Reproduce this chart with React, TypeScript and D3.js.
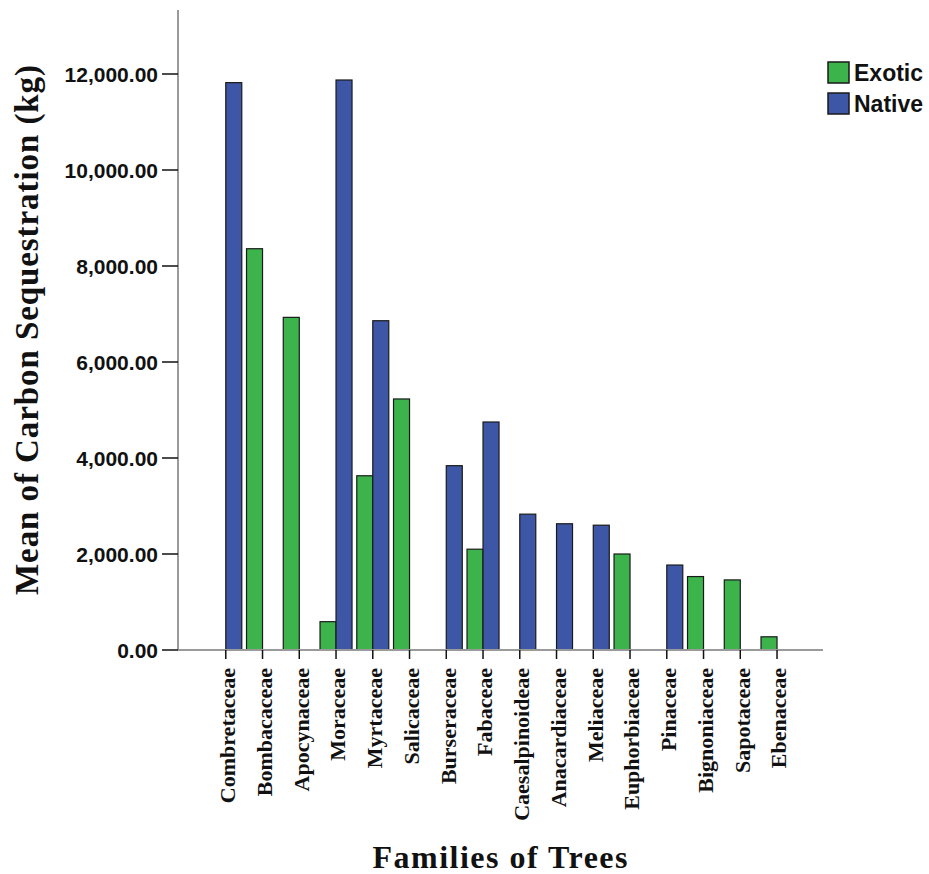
import React from "react";
import * as d3 from "d3";

const categories = [
  "Combretaceae", "Bombacaceae", "Apocynaceae", "Moraceae", "Myrtaceae", "Salicaceae",
  "Burseraceae", "Fabaceae", "Caesalpinoideae", "Anacardiaceae", "Meliaceae",
  "Euphorbiaceae", "Pinaceae", "Bignoniaceae", "Sapotaceae", "Ebenaceae",
];
const exotic = [0, 8360, 6930, 590, 3630, 5230, 0, 2100, 0, 0, 0, 2000, 0, 1530, 1460, 275];
const native = [11820, 0, 0, 11875, 6860, 0, 3840, 4750, 2830, 2630, 2600, 0, 1770, 0, 0, 0];
const seriesNames = ["Exotic", "Native"];
const seriesColors = ["#3cb44b", "#3d56a6"];
const yTicks = [0, 2000, 4000, 6000, 8000, 10000, 12000];

export default function App() {
  const W = 929, H = 874;
  const x0 = 207.4, x1 = 795.4;
  const axisLeftX = 178, axisBottomY = 650, axisTopY = 10, axisRightX = 823;
  const x = d3.scaleBand<string>().domain(categories).range([x0, x1]).padding(0);
  const bw = x.bandwidth();
  const inner = d3.scaleBand<string>().domain(seriesNames).range([bw / 2 - 16, bw / 2 + 16]).padding(0);
  const y = d3.scaleLinear().domain([0, 13333.3]).range([axisBottomY, axisTopY]);
  const fmt = d3.format(",.2f");
  const series = [exotic, native];

  return (
    <svg width={W} height={H} style={{ position: "absolute", left: 0, top: 0, background: "#fff" }}>
      {/* y axis */}
      <line x1={axisLeftX} x2={axisLeftX} y1={axisTopY} y2={axisBottomY} stroke="#9a9a9a" strokeWidth={2} />
      {yTicks.map((t) => (
        <g key={t}>
          <line x1={axisLeftX - 16} x2={axisLeftX} y1={y(t)} y2={y(t)} stroke="#111" strokeWidth={1.5} />
          <text x={axisLeftX - 20} y={y(t)} dy="0.36em" textAnchor="end"
            style={{ fontFamily: "Liberation Sans, Arial, sans-serif", fontWeight: 700, fontSize: 21, fill: "#111" }}>
            {fmt(t)}
          </text>
        </g>
      ))}
      {/* bars */}
      {categories.map((c, i) => (
        <g key={c} transform={`translate(${x(c)},0)`}>
          {series.map((s, k) =>
            s[i] > 0 ? (
              <rect key={k} x={inner(seriesNames[k])} width={inner.bandwidth()} y={y(s[i])}
                height={axisBottomY - y(s[i])} fill={seriesColors[k]} stroke="#1a1a1a" strokeWidth={1.2} />
            ) : null
          )}
        </g>
      ))}
      {/* x axis */}
      <line x1={axisLeftX} x2={axisRightX} y1={axisBottomY} y2={axisBottomY} stroke="#9a9a9a" strokeWidth={2} />
      {categories.map((c) => {
        const cx = (x(c) as number) + bw / 2;
        return (
          <g key={c}>
            <line x1={cx} x2={cx} y1={axisBottomY} y2={axisBottomY + 9} stroke="#111" strokeWidth={1.5} />
            <text transform={`translate(${cx},668) rotate(-90)`} dy="0.42em" textAnchor="end"
              style={{ fontFamily: "Liberation Serif, Times New Roman, serif", fontWeight: 700, fontSize: 22, fill: "#111" }}>
              {c}
            </text>
          </g>
        );
      })}
      {/* titles */}
      <text transform="translate(38,330) rotate(-90)" textAnchor="middle"
        textLength={530} lengthAdjust="spacing"
        style={{ fontFamily: "Liberation Serif, Times New Roman, serif", fontWeight: 700, fontSize: 33, fill: "#111" }}>
        Mean of Carbon Sequestration (kg)
      </text>
      <text x={500} y={868} textAnchor="middle" textLength={255} lengthAdjust="spacing"
        style={{ fontFamily: "Liberation Serif, Times New Roman, serif", fontWeight: 700, fontSize: 32, fill: "#111" }}>
        Families of Trees
      </text>
      {/* legend */}
      {seriesNames.map((n, k) => (
        <g key={n} transform={`translate(828,${62 + k * 31})`}>
          <rect x={0} y={0} width={21} height={21} fill={seriesColors[k]} stroke="#1a1a1a" strokeWidth={1.5} />
          <text x={26} y={11} dy="0.36em"
            style={{ fontFamily: "Liberation Sans, Arial, sans-serif", fontWeight: 700, fontSize: 23, fill: "#111" }}>
            {n}
          </text>
        </g>
      ))}
    </svg>
  );
}
